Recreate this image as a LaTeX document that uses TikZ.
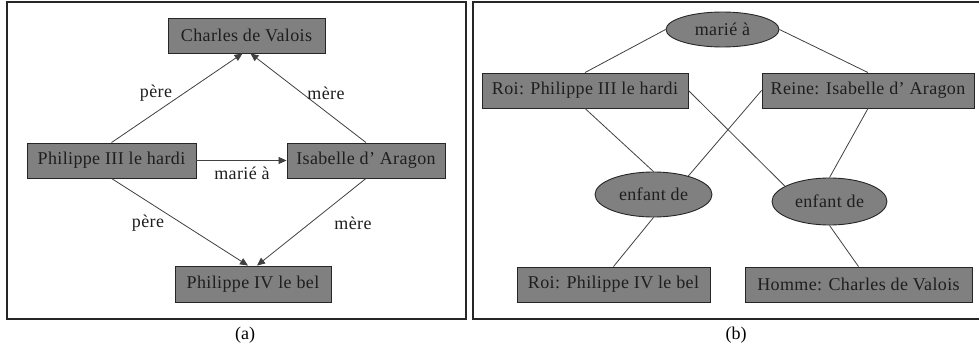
\documentclass[tikz,border=0pt]{standalone}
\usepackage{fontspec}
\setmainfont{Liberation Serif}
\newfontfamily\lblfont[LetterSpace=2]{Liberation Serif}
\usetikzlibrary{shapes.geometric,arrows.meta}
\definecolor{boxgray}{RGB}{128,128,128}
\definecolor{inkgray}{RGB}{30,30,30}
\tikzset{
  every node/.style={font=\lblfont\fontsize{18}{21}\selectfont, text=inkgray},
  concept/.style={draw=black!85, line width=0.9pt, fill=boxgray, inner sep=0pt, rectangle},
  relation/.style={draw=black!85, line width=0.9pt, fill=boxgray, inner sep=0pt, ellipse},
  link/.style={draw=black!75, line width=0.8pt},
  arc/.style={link, -{Triangle[length=8pt,width=7pt]}},
  panel/.style={draw=black!85, line width=1.2pt},
  caption/.style={font=\fontsize{18}{21}\selectfont, text=black}
}
\begin{document}
\begin{tikzpicture}[x=1pt,y=-1pt]
  \useasboundingbox (0,0) rectangle (979,350);
  \clip (0,0) rectangle (979,350);

  % panel frames
  \draw[panel] (7,2) rectangle (466,319);
  \draw[panel] (473,2) rectangle (990,319);

  % ---- (a) labelled graph ----
  \node[concept, minimum width=157pt, minimum height=35pt] (cv) at (246.5,35.5) {Charles de Valois};
  \node[concept, minimum width=169pt, minimum height=35pt] (p3) at (111.5,160.5) {Philippe III le hardi};
  \node[concept, minimum width=158pt, minimum height=35pt] (ia) at (366,160.5) {Isabelle d’ Aragon};
  \node[concept, minimum width=156pt, minimum height=36pt] (p4) at (253,284) {Philippe IV le bel};

  \draw[arc] (p3.north) -- ([xshift=-4pt]cv.south);
  \draw[arc] (ia.north) -- ([xshift=4pt]cv.south);
  \draw[arc] (p3.east) -- (ia.west);
  \draw[arc] (p3.south) -- ([xshift=-5pt]p4.north);
  \draw[arc] (ia.south) -- ([xshift=4pt]p4.north);

  \node (l1) at (156,93) {père};
  \node (l2) at (326,93) {mère};
  \node (l3) at (242,173) {marié à};
  \node (l4) at (148,223) {père};
  \node (l5) at (353,223) {mère};

  % ---- (b) conceptual graph ----
  \node[relation, minimum width=113pt, minimum height=35pt] (marie) at (722.5,29.5) {marié à};
  \node[concept, minimum width=206pt, minimum height=35pt] (r3) at (585,90.5) {Roi: Philippe III le hardi};
  \node[concept, minimum width=212pt, minimum height=35pt] (reine) at (868,90.5) {Reine: Isabelle d’ Aragon};
  \node[relation, minimum width=117pt, minimum height=45pt] (e1) at (653.5,194.5) {enfant de};
  \node[relation, minimum width=115pt, minimum height=47pt] (e2) at (829.5,201.5) {enfant de};
  \node[concept, minimum width=193pt, minimum height=35pt] (r4) at (613.5,284.5) {Roi: Philippe IV le bel};
  \node[concept, minimum width=227pt, minimum height=35pt] (hc) at (858.5,284.5) {Homme: Charles de Valois};

  \draw[link] (marie.west) -- (r3.north);
  \draw[link] (marie.east) -- (reine.north);
  \draw[link] (r3.south) -- (e1.north);
  \draw[link] (r3.east) -- (e2.161);
  \draw[link] (reine.west) -- (e1.28);
  \draw[link] (reine.south) -- (e2.north);
  \draw[link] (e1.south) -- (r4.north);
  \draw[link] (e2.south) -- (hc.north);

  % captions
  \node[caption] (capa) at (245,335) {(a)};
  \node[caption] (capb) at (736,335) {(b)};
\end{tikzpicture}
\end{document}
